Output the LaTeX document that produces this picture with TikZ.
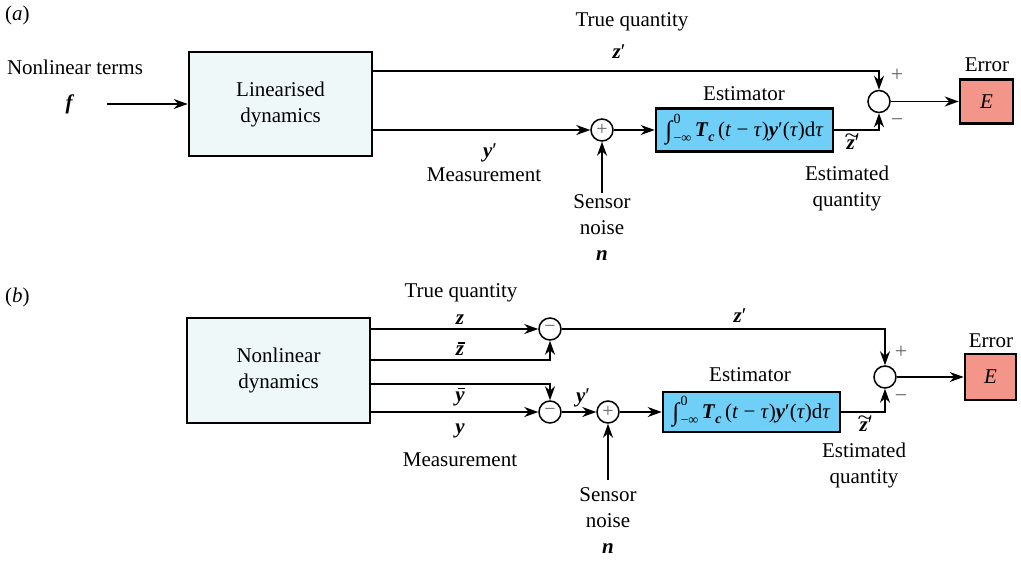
\documentclass[tikz,border=0pt]{standalone}
\usepackage{fontspec}
\setmainfont{Liberation Serif}
\usetikzlibrary{arrows.meta}
\newcommand{\bi}[1]{\textbf{\textit{#1}}}
\newcommand{\sml}{\fontsize{14}{14}\selectfont}
\definecolor{linfill}{HTML}{EFF8F8}
\definecolor{estfill}{HTML}{6FCFF6}
\definecolor{errfill}{HTML}{F4958A}
\definecolor{signgray}{HTML}{666666}
\newcommand{\estexpr}{\raisebox{-0.1em}{\fontsize{25}{25}\selectfont\textit{∫}}\makebox[0pt][l]{\raisebox{0.6em}{\sml 0}}\raisebox{-0.3em}{\sml −∞}\,\bi{T}\raisebox{-0.25em}{\sml\bfseries\itshape c}\,(\textit{t} − \textit{τ})\bi{y}′(\textit{τ})d\textit{τ}}
\newcommand{\barit}[1]{\setbox0\hbox{#1}\rlap{\kern0.12em\rule[\dimexpr\ht0+2.5pt\relax]{\dimexpr\wd0-0.1em\relax}{1.4pt}}\box0}
\newcommand{\tilit}[1]{\setbox0\hbox{#1}\rlap{\kern0.06em\raisebox{\dimexpr\ht0-0.12em\relax}{\makebox[\wd0]{\scalebox{1.3}[1.0]{\char"007E}}}}\box0}
\newcommand{\zt}{\tilit{\bi{z}}′}
\newcommand{\zb}{\barit{\bi{z}}}
\newcommand{\yb}{\barit{\bi{y}}}
\begin{document}
\begin{tikzpicture}[x=1pt,y=-1pt, font=\fontsize{21}{26}\selectfont,
 blk/.style={draw, line width=2.6pt, inner sep=0pt, align=center},
 sumc/.style={circle, draw, line width=1.5pt, minimum size=22pt, inner sep=0pt, text=signgray, font=\fontsize{20}{20}\selectfont},
 lbl/.style={inner sep=0pt, align=center},
 sgn/.style={inner sep=0pt, text=signgray, font=\fontsize{22}{22}\selectfont},
 conn/.style={line width=1.8pt, -{Stealth[length=14pt,width=10pt]}},
 wire/.style={line width=1.8pt}]
\useasboundingbox (0,0) rectangle (1021,563);

% ---------------- (a) ----------------
\node[lbl, anchor=west] (la) at (5,15) {(\textit{a})};
\node[lbl] (nlt) at (75,67) {Nonlinear terms};
\node[lbl] (f) at (70,104) {\bi{f}};
\coordinate (fs) at (107,104);
\node[blk, fill=linfill, minimum width=183pt, minimum height=104pt] (lin) at (280.5,104) {Linearised\\dynamics};
\coordinate (linz) at (372,71);
\coordinate (liny) at (372,130);
\node[sumc] (S1) at (879,101.5) {};
\node[sumc] (P1) at (602,130) {+};
\node[blk, fill=estfill, minimum width=177pt, minimum height=43pt] (est1) at (744.5,130) {\estexpr};
\node[blk, fill=errfill, minimum width=53pt, minimum height=44pt] (err1) at (986.5,101.5) {\textit{E}};
\coordinate (n1s) at (602,193);

\draw[conn] (fs) -- (lin.west);
\draw[conn] (linz) -| (S1.north);
\draw[conn] (liny) -- (P1.west);
\draw[conn] (P1.east) -- (est1.west);
\draw[conn] (est1.east) -| (S1.south);
\draw[conn] (S1.east) -- (err1.west);
\draw[conn] (n1s) -- (P1.south);

\node[lbl] (tq1) at (632,22) {True quantity};
\node[lbl] (zp1) at (619,52) {\bi{z}′};
\node[lbl] (yp1) at (490,153) {\bi{y}′};
\node[lbl] (ms1) at (484,175) {Measurement};
\node[lbl, anchor=north] (sn1) at (602,194) {Sensor\\noise\\\bi{n}};
\node[lbl] (es1l) at (744,94) {Estimator};
\node[lbl] (zt1) at (853,142) {\zt};
\node[lbl, anchor=north] (eq1) at (847,166) {Estimated\\quantity};
\node[sgn] (pl1) at (897,75) {+};
\node[sgn] (mi1) at (897,123) {−};
\node[lbl] (er1) at (987,65) {Error};

% ---------------- (b) ----------------
\node[lbl, anchor=west] (lb) at (5,297) {(\textit{b})};
\node[blk, fill=linfill, minimum width=183pt, minimum height=105pt] (nld) at (278.5,370.5) {Nonlinear\\dynamics};
\coordinate (bz) at (370,329);
\coordinate (bzb) at (370,360);
\coordinate (byb) at (370,384);
\coordinate (by) at (370,412);
\node[sumc] (M1) at (550,329) {−};
\node[sumc] (M2) at (550,412) {−};
\node[sumc] (P2) at (608,412) {+};
\node[sumc] (S2) at (885,377) {};
\node[blk, fill=estfill, minimum width=177pt, minimum height=40pt] (est2) at (751.5,412) {\estexpr};
\node[blk, fill=errfill, minimum width=51pt, minimum height=46pt] (err2) at (990.5,377) {\textit{E}};
\coordinate (n2s) at (608,480);

\draw[conn] (bz) -- (M1.west);
\draw[conn] (bzb) -| (M1.south);
\draw[conn] (byb) -| (M2.north);
\draw[conn] (by) -- (M2.west);
\draw[conn] (M2.east) -- (P2.west);
\draw[conn] (P2.east) -- (est2.west);
\draw[conn] (M1.east) -| (S2.north);
\draw[conn] (est2.east) -| (S2.south);
\draw[conn] (S2.east) -- (err2.west);
\draw[conn] (n2s) -- (P2.south);

\node[lbl] (tq2) at (461,293) {True quantity};
\node[lbl] (zl2) at (460,320) {\bi{z}};
\node[lbl] (zbl2) at (460,349) {\zb};
\node[lbl] (ybl2) at (460,397) {\yb};
\node[lbl] (yl2) at (460,431) {\bi{y}};
\node[lbl] (ms2) at (460,460) {Measurement};
\node[lbl] (yp2) at (583,398) {\bi{y}′};
\node[lbl] (zp2) at (740,316) {\bi{z}′};
\node[lbl, anchor=north] (sn2) at (608,487) {Sensor\\noise\\\bi{n}};
\node[lbl] (es2l) at (750,375) {Estimator};
\node[lbl] (zt2) at (866,424) {\zt};
\node[lbl, anchor=north] (eq2) at (864,443) {Estimated\\quantity};
\node[sgn] (pl2) at (901,352) {+};
\node[sgn] (mi2) at (901,399) {−};
\node[lbl] (er2) at (991,341) {Error};
\end{tikzpicture}
\end{document}
